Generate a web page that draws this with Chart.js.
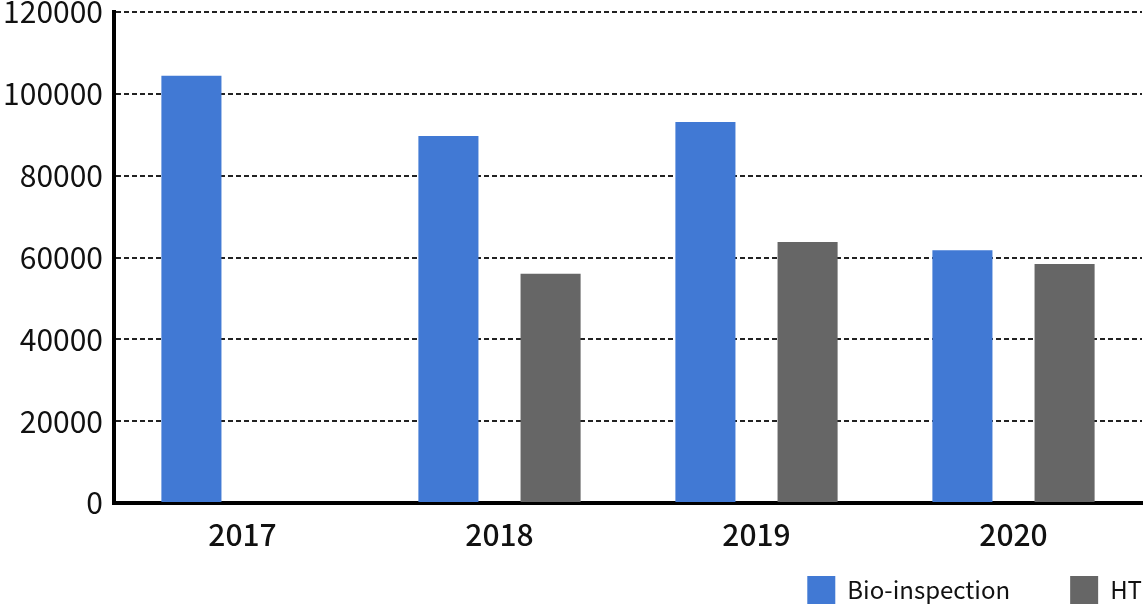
<!DOCTYPE html>
<html>
<head>
<meta charset="utf-8">
<script src="https://cdn.jsdelivr.net/npm/chart.js@4.4.1/dist/chart.umd.min.js"></script>
<style>
    html, body { margin: 0; padding: 0; background: #fff; overflow: hidden; }
    #wrap { width: 1148px; height: 604px; overflow: hidden; }
</style>
</head>
<body>
<div id="wrap"><canvas id="inspectionChart" width="1148" height="614"></canvas></div>
<script>
// Values
const years = ['2017', '2018', '2019', '2020'];
const bioInspection = [104400, 89700, 93100, 61800];
const htValues = [null, 56000, 63800, 58400];
const yTicks = [0, 20000, 40000, 60000, 80000, 100000, 120000];

const FONT = '"Noto Sans CJK SC", "Noto Sans", sans-serif';

document.addEventListener('DOMContentLoaded', function() {
    const ctx = document.getElementById('inspectionChart').getContext('2d');

    new Chart(ctx, {
        type: 'bar',
        data: {
            labels: years,
            datasets: [{
                label: 'Bio-inspection',
                data: bioInspection,
                backgroundColor: '#4179d4',
                categoryPercentage: 0.795,
                barPercentage: 0.588
            }, {
                label: 'HT',
                data: htValues,
                backgroundColor: '#666666',
                categoryPercentage: 0.795,
                barPercentage: 0.588
            }]
        },
        options: {
            responsive: false,
            animation: false,
            layout: {
                padding: { left: 0, right: 6, top: 12, bottom: 0 }
            },
            plugins: {
                tooltip: { enabled: false },
                legend: {
                    position: 'bottom',
                    align: 'end',
                    labels: {
                        boxWidth: 28,
                        boxHeight: 28,
                        padding: 0,
                        color: '#111',
                        font: { family: FONT, size: 24 },
                        generateLabels: function(chart) {
                            const items = Chart.defaults.plugins.legend.labels.generateLabels(chart);
                            // wider gap after the first entry, as in the picture
                            items.forEach((item, i) => {
                                if (i < items.length - 1) item.text = item.text + '\u2003\u2003\u2002';
                            });
                            return items;
                        }
                    }
                }
            },
            scales: {
                x: {
                    afterFit: function(scale) {
                        scale.height = 73;
                    },
                    grid: { display: false, drawTicks: false },
                    border: { display: true, color: '#000', width: 4 },
                    ticks: {
                        color: '#111',
                        padding: 14,
                        font: { family: FONT, size: 30, weight: 500 }
                    }
                },
                y: {
                    min: 0,
                    max: 120000,
                    afterBuildTicks: function(scale) {
                        scale.ticks = yTicks.map(v => ({ value: v }));
                    },
                    afterFit: function(scale) {
                        scale.width = 114;
                        scale.paddingTop = 0;
                        scale.paddingBottom = 0;
                    },
                    grid: {
                        color: '#222',
                        lineWidth: 2,
                        drawTicks: false
                    },
                    border: { display: true, color: '#000', width: 4, dash: [5, 3] },
                    ticks: {
                        color: '#111',
                        padding: 11,
                        font: { family: FONT, size: 30 },
                        callback: function(value) {
                            return String(value);
                        }
                    }
                }
            }
        }
    });
});
</script>
</body>
</html>
